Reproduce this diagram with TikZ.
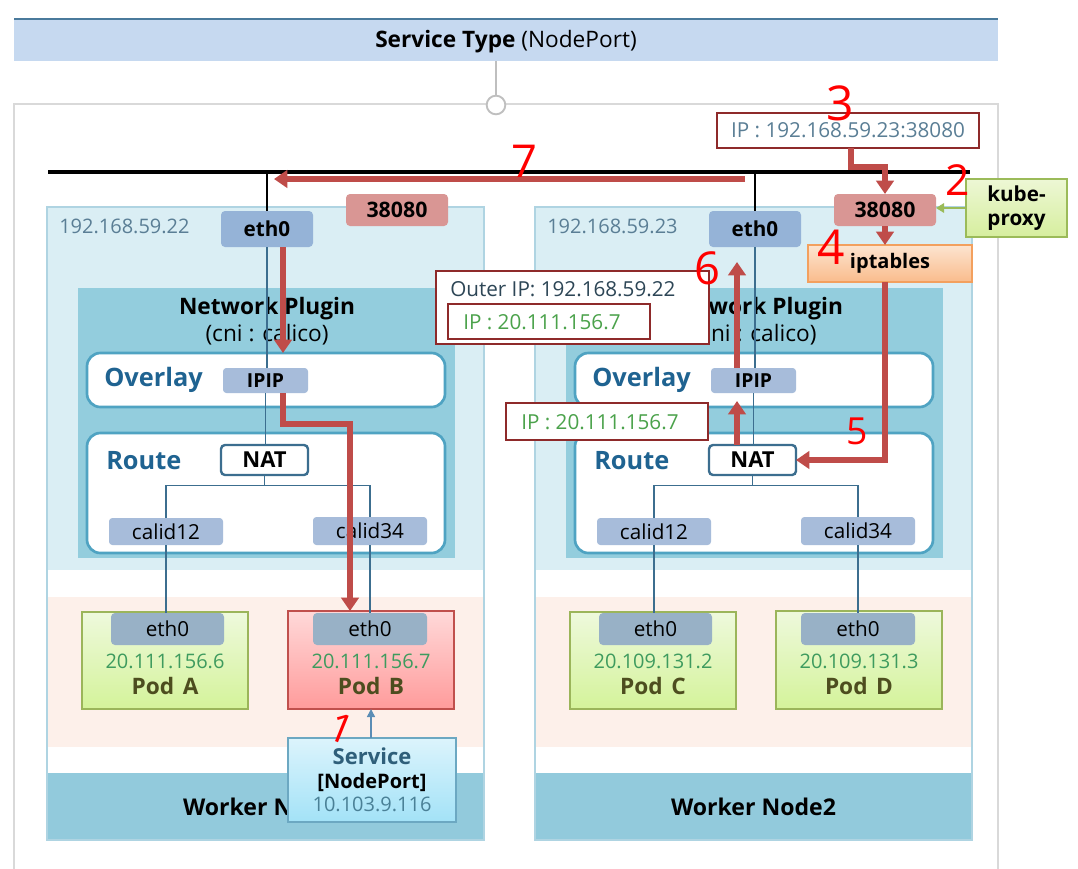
\documentclass[tikz,border=0pt]{standalone}
\usepackage{fontspec}
\setmainfont{Open Sans}
\usetikzlibrary{arrows.meta}
\definecolor{chdrfill}{HTML}{C6D9F0}
\definecolor{chdrline}{HTML}{4A7A9C}
\definecolor{coutgray}{HTML}{D9D9D9}
\definecolor{cnodebg}{HTML}{DAEEF4}
\definecolor{cnodeborder}{HTML}{AFD4E2}
\definecolor{cplug}{HTML}{93CDDD}
\definecolor{clayerborder}{HTML}{4FA3C2}
\definecolor{clayertext}{HTML}{1F6391}
\definecolor{cifbox}{HTML}{A7BCDA}
\definecolor{cethbox}{HTML}{95B3D7}
\definecolor{cpodeth}{HTML}{98B1C6}
\definecolor{cwire}{HTML}{3C6E8F}
\definecolor{cpinkbg}{HTML}{FDF0EA}
\definecolor{cband}{HTML}{92CADC}
\definecolor{cportbox}{HTML}{D99694}
\definecolor{credarrow}{HTML}{BF4C49}
\definecolor{ccalloutred}{HTML}{8E2A2A}
\definecolor{cipgreen}{HTML}{4BA24B}
\definecolor{cpodip}{HTML}{3E9B5E}
\definecolor{cipblue}{HTML}{5A7E95}
\definecolor{cpodname}{HTML}{4D4D1F}
\definecolor{cpodgtop}{HTML}{EEF9DC}
\definecolor{cpodgbot}{HTML}{D4F39A}
\definecolor{cpodgborder}{HTML}{9BB55A}
\definecolor{cpodrtop}{HTML}{FFD9D9}
\definecolor{cpodrbot}{HTML}{FF9B9B}
\definecolor{cpodrborder}{HTML}{C0504D}
\definecolor{csvctop}{HTML}{DCF4FC}
\definecolor{csvcbot}{HTML}{A3E2F7}
\definecolor{csvcborder}{HTML}{6CA8C2}
\definecolor{csvcdark}{HTML}{2F5F7A}
\definecolor{csvcip}{HTML}{4A8096}
\definecolor{cipttop}{HTML}{FDE4D0}
\definecolor{ciptbot}{HTML}{F9BC8C}
\definecolor{ciptborder}{HTML}{F3A05E}
\definecolor{ckptop}{HTML}{EDF7D5}
\definecolor{ckpbot}{HTML}{D6EE9E}
\definecolor{ckpborder}{HTML}{9BBB59}
\definecolor{couterip}{HTML}{2D4656}
\definecolor{csvcarrow}{HTML}{5B8DB5}

\newcommand\fz[2]{\fontsize{#1}{#2}\selectfont}
\newcommand\bx[7]{%
  \pgfmathsetmacro\bxw{(#5-#3)*0.75}%
  \pgfmathsetmacro\bxh{(#6-#4)*0.75}%
  \pgfmathsetmacro\bxcx{(#3+#5)/2}%
  \pgfmathsetmacro\bxcy{(#4+#6)/2}%
  \node[inner sep=0pt, outer sep=0pt, minimum width=\bxw pt, minimum height=\bxh pt, #2] (#1) at (\bxcx,\bxcy) {#7};}

\tikzset{
  ifboxst/.style={fill=cifbox, rounded corners=2.5pt, font=\fz{15.5}{18}},
  ethboxst/.style={fill=cethbox, rounded corners=3pt, font=\bfseries\fz{15.5}{18}},
  podethst/.style={fill=cpodeth, rounded corners=3pt, font=\fz{15.5}{18}},
  portboxst/.style={fill=cportbox, rounded corners=3pt, font=\bfseries\fz{16}{18}},
  layerbox/.style={fill=white, draw=clayerborder, line width=2pt, rounded corners=10pt},
  layertxt/.style={text=clayertext, font=\bfseries\fz{19}{22}, anchor=west, inner sep=0pt},
  natboxst/.style={fill=white, draw=cwire, line width=1.8pt, rounded corners=3pt, font=\bfseries\fz{16.5}{18}},
  wireline/.style={draw=cwire, line width=1.1pt},
  podgreen/.style={top color=cpodgtop, bottom color=cpodgbot, draw=cpodgborder, line width=1.3pt},
  podred/.style={top color=cpodrtop, bottom color=cpodrbot, draw=cpodrborder, line width=1.3pt},
  podiptxt/.style={text=cpodip, font=\fz{15}{18}},
  podnametxt/.style={text=cpodname, font=\bfseries\fz{17}{18}},
  calloutbox/.style={fill=white, draw=ccalloutred, line width=1.5pt},
  redpath/.style={draw=credarrow, line width=4.5pt, -{Triangle[length=10pt,width=13pt]}},
  hand/.style={text=red, inner sep=0pt},
  nApodL/.style=podgreen, nApodR/.style=podred,
  nBpodL/.style=podgreen, nBpodR/.style=podgreen,
}

\newcommand\worker[8]{%
\begin{scope}[shift={(#2,0)}]
  \bx{#1bg}{fill=cnodebg}{47}{207}{484}{840}{}
  \fill[white] (47,570) rectangle (484,597);
  \fill[cpinkbg] (47,597) rectangle (484,747);
  \fill[white] (47,747) rectangle (484,773);
  \bx{#1band}{fill=cband, font=\bfseries\fz{17.3}{20}}{47}{773}{484}{840}{#8}
  \draw[cnodeborder, line width=0.9pt] (#1bg.north west) rectangle (#1bg.south east);
  \node[anchor=west, text=cipblue, font=\fz{15}{18}, inner sep=0pt] (#1ip) at (59,226) {#3};
  \bx{#1port}{portboxst}{346}{194}{448}{226}{38080}
  \bx{#1eth}{ethboxst}{221}{211}{313}{247}{eth0}
  \bx{#1plug}{fill=cplug}{78}{288}{455}{558}{}
  \node[align=center, font=\fz{17}{20}] (#1plugt) at (267,321) {\textbf{Network Plugin}\\(cni : calico)};
  \bx{#1ov}{layerbox}{87}{353}{445}{407}{}
  \node[layertxt] (#1ovt) at (104,380) {Overlay};
  \bx{#1ipip}{ifboxst, font=\bfseries\fz{14.5}{18}}{223}{368}{308}{393}{IPIP}
  \bx{#1rt}{layerbox}{87}{433}{445}{553}{}
  \node[layertxt] (#1rtt) at (106,461) {Route};
  \bx{#1nat}{natboxst}{221}{445}{308}{475}{NAT}
  \bx{#1ca}{ifboxst}{109}{518}{223}{545}{calid12}
  \bx{#1cb}{ifboxst}{313}{517}{427}{545}{calid34}
  \bx{#1pa}{#1podL}{82}{612}{248}{709}{}
  \bx{#1pae}{podethst}{111}{613}{224}{645}{eth0}
  \node[podiptxt] (#1paip) at (165,661) {#4};
  \node[podnametxt] (#1pan) at (165,686) {#5};
  \bx{#1pb}{#1podR}{288}{611}{454}{709}{}
  \bx{#1pbe}{podethst}{313}{613}{427}{645}{eth0}
  \node[podiptxt] (#1pbip) at (371,661) {#6};
  \node[podnametxt] (#1pbn) at (371,686) {#7};
  \draw[black, line width=1.2pt] (#1eth.north |- busL) -- (#1eth.north);
  \draw[wireline] (#1eth.south) -- (#1eth.south |- #1ipip.north);
  \draw[wireline] (#1ipip.south) -- (#1ipip.south |- #1nat.north);
  \coordinate (#1split) at ([yshift=-8pt]#1nat.south);
  \draw[wireline] (#1nat.south) -- (#1split);
  \draw[wireline] (#1ca.north) |- (#1split) -| (#1cb.north);
  \draw[wireline] (#1ca.south) -- (#1ca.south |- #1pae.north);
  \draw[wireline] (#1cb.south) -- (#1cb.south |- #1pbe.north);
\end{scope}}

\begin{document}
\begin{tikzpicture}[x=0.75pt,y=-0.75pt]
\useasboundingbox (0,0) rectangle (1078,868);
\fill[white] (0,0) rectangle (1078,868);

% header
\bx{hdr}{fill=chdrfill}{14}{19}{998}{61}{}
\draw[chdrline, line width=1.5pt] (hdr.north west) -- (hdr.north east);
\node[font=\fz{17}{20}] (hdrtxt) at (506,42) {\textbf{Service Type} (NodePort)};

% outer frame
\draw[coutgray, line width=2.2pt] (14,104) rectangle (998,900);
\node[circle, draw=black!25, fill=white, line width=1.4pt, minimum size=14pt, inner sep=0pt] (knob) at (496,105) {};
\draw[black!25, line width=1pt] (hdr.south -| knob) -- (knob.north);

% bus
\coordinate (busL) at (48,172);
\coordinate (busR) at (970,172);
\draw[black, line width=3pt] (busL) -- (busR);

\worker{nA}{0}{192.168.59.22}{20.111.156.6}{Pod\hspace{0.12em} A}{20.111.156.7}{Pod\hspace{0.12em} B}{Worker Node1}
\worker{nB}{488}{192.168.59.23}{20.109.131.2}{Pod\hspace{0.12em} C}{20.109.131.3}{Pod\hspace{0.12em} D}{Worker Node2}

% service
\bx{svc}{top color=csvctop, bottom color=csvcbot, draw=csvcborder, line width=1.3pt, align=center, font=\fz{15}{17.6}}{288}{738}{456}{822}{\textcolor{csvcdark}{\bfseries\fontsize{16.5}{17.6}\selectfont Service}\\\textbf{[NodePort]}\\\textcolor{csvcip}{10.103.9.116}}
\draw[csvcarrow, line width=1.2pt, -{Triangle[length=6pt,width=6pt]}] (svc.north -| nApb) -- (nApb.south);

% kube-proxy side
\bx{ipbox}{calloutbox, font=\fz{15.5}{18}}{717}{113}{979}{148}{\textcolor{cipblue}{IP : 192.168.59.23:38080}}
\bx{ipt}{top color=cipttop, bottom color=ciptbot, draw=ciptborder, line width=1.3pt, font=\bfseries\fz{15}{18}}{808}{245}{972}{282}{iptables}
\bx{kp}{top color=ckptop, bottom color=ckpbot, draw=ckpborder, line width=1.3pt, align=center, font=\bfseries\fz{15.5}{18.5}}{966}{179}{1067}{237}{kube-\\proxy}
\draw[ckpborder, line width=1.5pt, -{Triangle[length=6pt,width=7pt]}] (kp.west) -- (kp.west -| nBport.east);

% red paths
\coordinate (r7s) at (745,179);
\coordinate (r7e) at (274,179);
\draw[redpath] (r7s) -- (r7e);
\draw[redpath] (nAeth.south -| 283,0) -- (283,0 |- nAov.north);
\draw[redpath] (nAipip.south -| 283,0) -- (283,424) -- (350,424) -- (350,0 |- nApb.north);
\draw[redpath] (ipbox.south -| 851,0) -- (851,167) -| (nBport.north);
\draw[redpath] (nBport.south) -- (nBport.south |- ipt.north);
\draw[redpath] (ipt.south -| nBport.south) |- (nBnat.east);
\draw[redpath] (nBnat.north -| 737,0) -- (737,401);
\draw[redpath] (nBipip.north -| 737,0) -- (737,262);

% callouts
\bx{oip}{calloutbox}{436}{271}{709}{344}{}
\node[anchor=west, text=couterip, font=\fz{15.5}{18}, inner sep=0pt] (oiptxt) at (450,289) {Outer IP: 192.168.59.22};
\bx{oipin}{calloutbox}{448}{304}{650}{339}{}
\node[anchor=west, text=cipgreen, font=\fz{15.5}{18}, inner sep=0pt] (oipintxt) at (463,322) {IP : 20.111.156.7};
\bx{ip2}{calloutbox}{506}{403}{708}{440}{}
\node[anchor=west, text=cipgreen, font=\fz{15.5}{18}, inner sep=0pt] (ip2txt) at (521,422) {IP : 20.111.156.7};

% handwritten step numbers
\node[hand, font=\fz{30}{30}, rotate=-22] (h1) at (341,729) {1};
\node[hand, font=\fz{32}{32}] (h2) at (958,180) {2};
\node[hand, font=\fz{36}{36}] (h3) at (840,103) {3};
\node[hand, font=\fz{36}{36}] (h4) at (831,247) {4};
\node[hand, font=\fz{28}{28}] (h5) at (857,431) {5};
\node[hand, font=\fz{34}{34}] (h6) at (707,268) {6};
\node[hand, font=\fz{34}{34}] (h7) at (524,161) {7};
\end{tikzpicture}
\end{document}
